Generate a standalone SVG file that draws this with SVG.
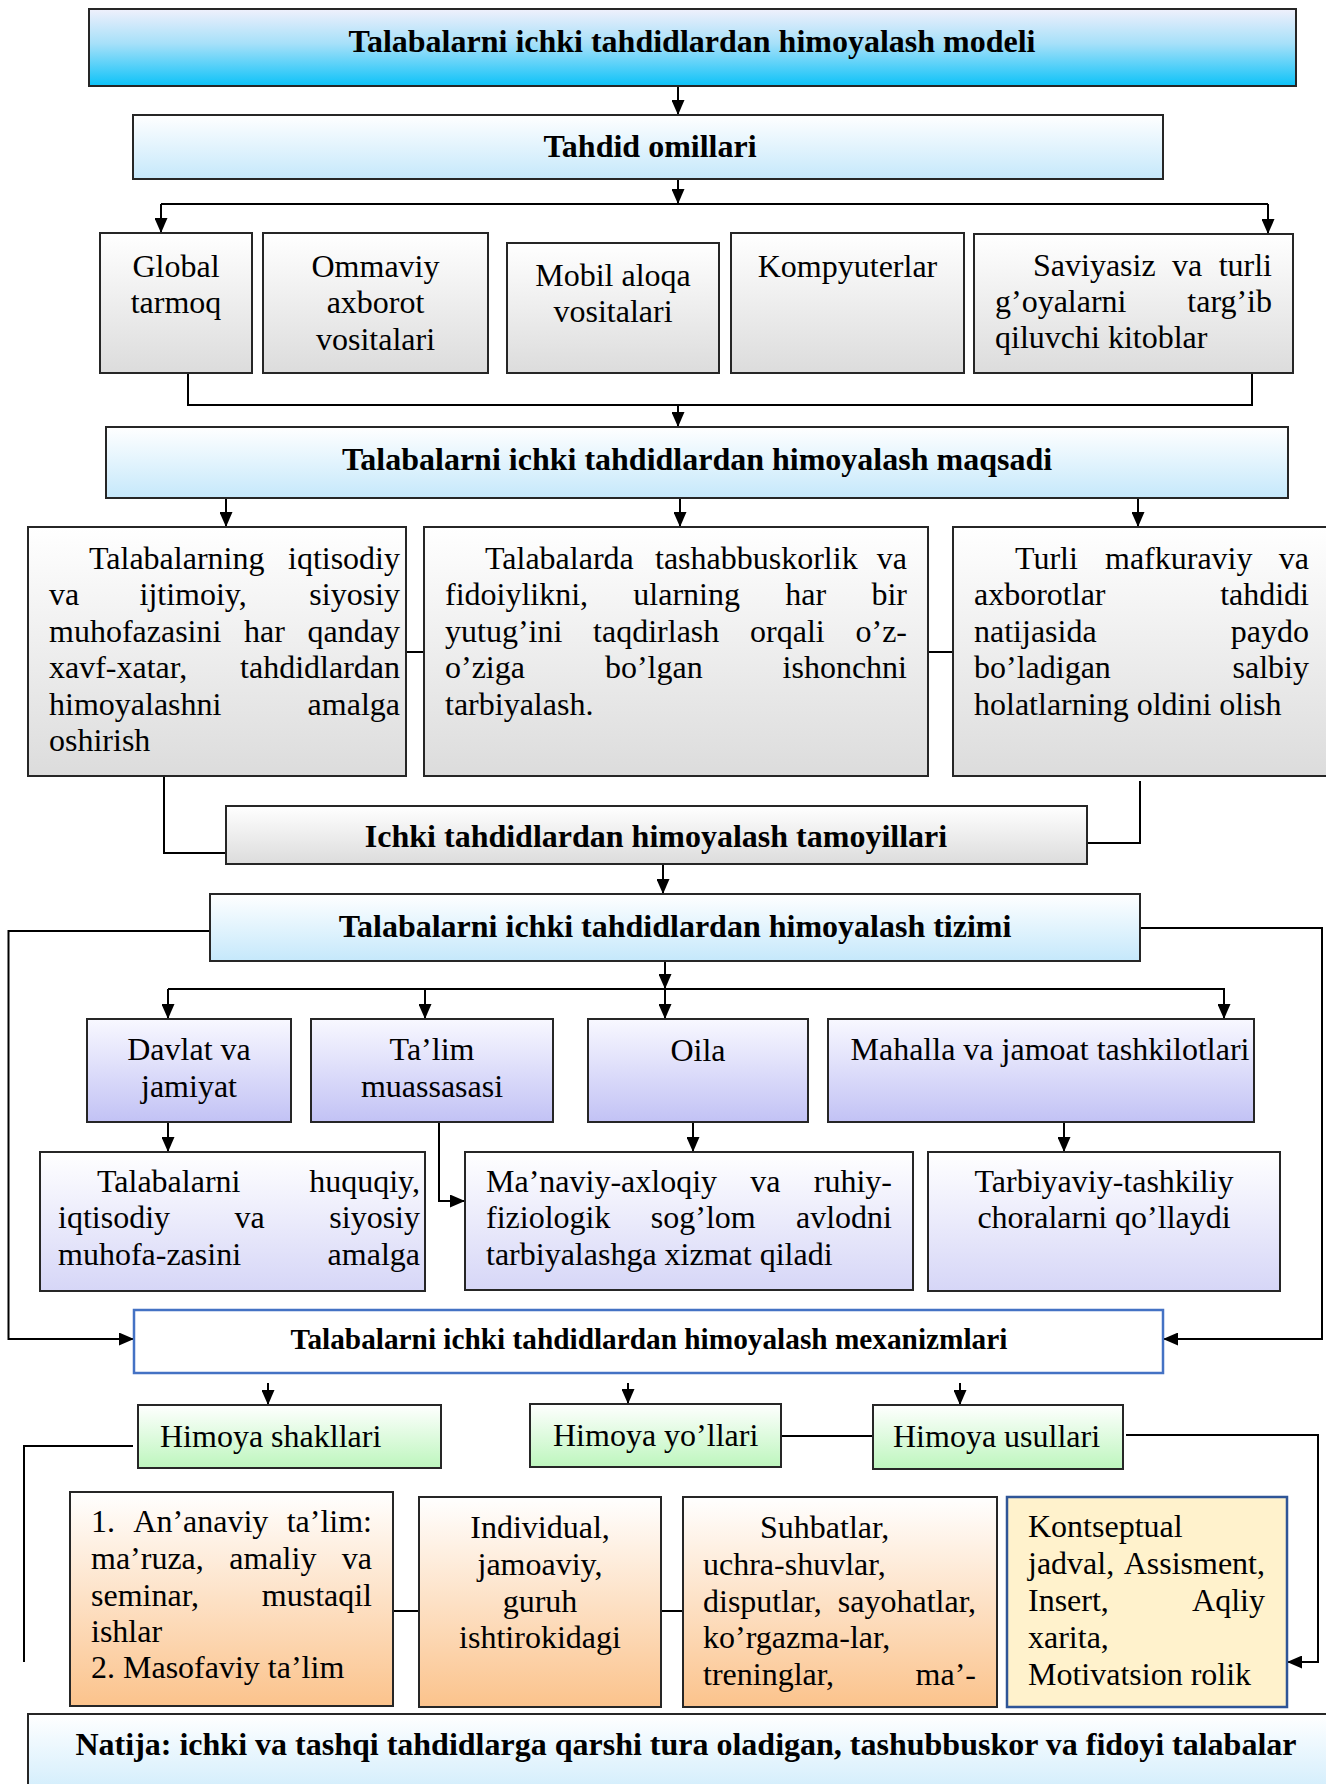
<svg xmlns="http://www.w3.org/2000/svg" width="1326" height="1784" viewBox="0 0 1326 1784">
<defs>
<linearGradient id="gTitle" x1="0" y1="0" x2="0" y2="1"><stop offset="0" stop-color="#f0f0fc"/><stop offset="0.45" stop-color="#a6e0f9"/><stop offset="1" stop-color="#0cc2f8"/></linearGradient>
<linearGradient id="gBlue" x1="0" y1="0" x2="0" y2="1"><stop offset="0" stop-color="#ffffff"/><stop offset="1" stop-color="#c5e8fb"/></linearGradient>
<linearGradient id="gGray" x1="0" y1="0" x2="0" y2="1"><stop offset="0" stop-color="#ffffff"/><stop offset="1" stop-color="#dcdcdc"/></linearGradient>
<linearGradient id="gLav" x1="0" y1="0" x2="0" y2="1"><stop offset="0" stop-color="#f8f8ff"/><stop offset="1" stop-color="#c2c2f5"/></linearGradient>
<linearGradient id="gLav2" x1="0" y1="0" x2="0" y2="1"><stop offset="0" stop-color="#ffffff"/><stop offset="1" stop-color="#d6d6f7"/></linearGradient>
<linearGradient id="gGreen" x1="0" y1="0" x2="0" y2="1"><stop offset="0" stop-color="#ffffff"/><stop offset="1" stop-color="#bdf6bd"/></linearGradient>
<linearGradient id="gPeach" x1="0" y1="0" x2="0" y2="1"><stop offset="0" stop-color="#ffffff"/><stop offset="1" stop-color="#fbc38c"/></linearGradient>
<marker id="ah" markerUnits="userSpaceOnUse" markerWidth="15" markerHeight="13" refX="15" refY="6.5" orient="auto"><path d="M0,0 L15,6.5 L0,13 z" fill="#000"/></marker>
<style>
.box{stroke:#262626;stroke-width:2}
.t{font-family:"Liberation Serif","Times New Roman",serif;font-size:32px;fill:#000}
.b{font-weight:bold}
.c{text-anchor:middle}
.e{text-anchor:end}
#connectors path{stroke:#000;stroke-width:2;fill:none}
#connectors .a{marker-end:url(#ah)}
</style>
</defs>
<rect width="1326" height="1784" fill="#fff"/>

<g id="connectors">
<path class="a" d="M678,86 V115"/>
<path class="a" d="M678,179 V204"/>
<path d="M161,204 H1268"/>
<path class="a" d="M161,204 V233"/>
<path class="a" d="M1268,204 V234"/>
<path d="M188,373 V405 H1252 V373"/>
<path class="a" d="M678,405 V427"/>
<path class="a" d="M226,498 V527"/>
<path class="a" d="M680,498 V527"/>
<path class="a" d="M1138,498 V527"/>
<path d="M406,652 H424 M928,652 H953"/>
<path d="M164,776 V853 H226"/>
<path d="M1140,781 V843 H1087"/>
<path class="a" d="M663,864 V894"/>
<path class="a" d="M665,961 V989"/>
<path d="M168,989 H1225"/>
<path class="a" d="M168,989 V1019"/>
<path class="a" d="M425,989 V1019"/>
<path class="a" d="M665,989 V1019"/>
<path class="a" d="M1224,989 V1019"/>
<path class="a" d="M168,1122 V1152"/>
<path class="a" d="M693,1122 V1152"/>
<path class="a" d="M1064,1122 V1152"/>
<path class="a" d="M439,1122 V1201 H465"/>
<path class="a" d="M210,931 H8.5 V1339 H134"/>
<path class="a" d="M1140,928 H1322 V1339 H1163"/>
<path class="a" d="M268,1383 V1405"/>
<path class="a" d="M628,1383 V1404"/>
<path class="a" d="M960,1383 V1405"/>
<path d="M781,1436 H873"/>
<path d="M133,1446 H24 V1662"/>
<path class="a" d="M1126,1435 H1318 V1662 H1287"/>
<path d="M393,1611 H419 M661,1611 H683"/>
</g>

<g id="n-title">
<rect class="box" x="89" y="9" width="1207" height="77" fill="url(#gTitle)"/>
<text class="t b c" x="692" y="52">Talabalarni ichki tahdidlardan himoyalash modeli</text>
</g>

<g id="n-omillar">
<rect class="box" x="133" y="115" width="1030" height="64" fill="url(#gBlue)"/>
<text class="t b c" x="650" y="157">Tahdid omillari</text>
</g>

<g id="n-global">
<rect class="box" x="100" y="233" width="152" height="140" fill="url(#gGray)"/>
<text class="t c" x="176" y="277">Global<tspan x="176" y="313">tarmoq</tspan></text>
</g>
<g id="n-ommaviy">
<rect class="box" x="263" y="233" width="225" height="140" fill="url(#gGray)"/>
<text class="t c" x="375.5" y="277">Ommaviy<tspan x="375.5" y="313">axborot</tspan><tspan x="375.5" y="350">vositalari</tspan></text>
</g>
<g id="n-mobil">
<rect class="box" x="507" y="243" width="212" height="130" fill="url(#gGray)"/>
<text class="t c" x="613" y="286">Mobil aloqa<tspan x="613" y="322">vositalari</tspan></text>
</g>
<g id="n-kompyuter">
<rect class="box" x="731" y="233" width="233" height="140" fill="url(#gGray)"/>
<text class="t c" x="847.5" y="277">Kompyuterlar</text>
</g>
<g id="n-saviyasiz">
<rect class="box" x="974" y="234" width="319" height="139" fill="url(#gGray)"/>
<text class="t" x="1033" y="276">Saviyasiz<tspan x="1172">va</tspan><tspan class="e" x="1272" text-anchor="end">turli</tspan></text>
<text class="t" x="995" y="312">g’oyalarni<tspan x="1272" text-anchor="end">targ’ib</tspan></text>
<text class="t" x="995" y="348">qiluvchi kitoblar</text>
</g>

<g id="n-maqsad">
<rect class="box" x="106" y="427" width="1182" height="71" fill="url(#gBlue)"/>
<text class="t b c" x="697" y="470">Talabalarni ichki tahdidlardan himoyalash maqsadi</text>
</g>

<g id="n-maqsad1">
<rect class="box" x="28" y="527" width="378" height="249" fill="url(#gGray)"/>
<text class="t" x="89" y="569">Talabalarning<tspan x="400" text-anchor="end">iqtisodiy</tspan></text>
<text class="t" x="49" y="605">va<tspan x="139.5">ijtimoiy,</tspan><tspan x="400" text-anchor="end">siyosiy</tspan></text>
<text class="t" x="49" y="642">muhofazasini<tspan x="244">har</tspan><tspan x="400" text-anchor="end">qanday</tspan></text>
<text class="t" x="49" y="678">xavf-xatar,<tspan x="400" text-anchor="end">tahdidlardan</tspan></text>
<text class="t" x="49" y="715">himoyalashni<tspan x="400" text-anchor="end">amalga</tspan></text>
<text class="t" x="49" y="751">oshirish</text>
</g>
<g id="n-maqsad2">
<rect class="box" x="424" y="527" width="504" height="249" fill="url(#gGray)"/>
<text class="t" x="485" y="569">Talabalarda<tspan x="655">tashabbuskorlik</tspan><tspan x="907" text-anchor="end">va</tspan></text>
<text class="t" x="445" y="605">fidoiylikni,<tspan x="633.3">ularning</tspan><tspan x="785.2">har</tspan><tspan x="907" text-anchor="end">bir</tspan></text>
<text class="t" x="445" y="642">yutug’ini<tspan x="593.1">taqdirlash</tspan><tspan x="750.1">orqali</tspan><tspan x="907" text-anchor="end">o’z-</tspan></text>
<text class="t" x="445" y="678">o’ziga<tspan x="604.9">bo’lgan</tspan><tspan x="907" text-anchor="end">ishonchni</tspan></text>
<text class="t" x="445" y="715">tarbiyalash.</text>
</g>
<g id="n-maqsad3">
<rect class="box" x="953" y="527" width="400" height="249" fill="url(#gGray)"/>
<text class="t" x="1015" y="569">Turli<tspan x="1105">mafkuraviy</tspan><tspan x="1309" text-anchor="end">va</tspan></text>
<text class="t" x="974" y="605">axborotlar<tspan x="1309" text-anchor="end">tahdidi</tspan></text>
<text class="t" x="974" y="642">natijasida<tspan x="1309" text-anchor="end">paydo</tspan></text>
<text class="t" x="974" y="678">bo’ladigan<tspan x="1309" text-anchor="end">salbiy</tspan></text>
<text class="t" x="974" y="715">holatlarning oldini olish</text>
</g>

<g id="n-tamoyil">
<rect class="box" x="226" y="806" width="861" height="58" fill="url(#gGray)"/>
<text class="t b c" x="656" y="847">Ichki tahdidlardan himoyalash tamoyillari</text>
</g>

<g id="n-tizim">
<rect class="box" x="210" y="894" width="930" height="67" fill="url(#gBlue)"/>
<text class="t b c" x="675" y="937">Talabalarni ichki tahdidlardan himoyalash tizimi</text>
</g>

<g id="n-davlat">
<rect class="box" x="87" y="1019" width="204" height="103" fill="url(#gLav)"/>
<text class="t c" x="189" y="1060">Davlat va<tspan x="189" y="1097">jamiyat</tspan></text>
</g>
<g id="n-talim">
<rect class="box" x="311" y="1019" width="242" height="103" fill="url(#gLav)"/>
<text class="t c" x="432" y="1060">Ta’lim<tspan x="432" y="1097">muassasasi</tspan></text>
</g>
<g id="n-oila">
<rect class="box" x="588" y="1019" width="220" height="103" fill="url(#gLav)"/>
<text class="t c" x="698" y="1061">Oila</text>
</g>
<g id="n-mahalla">
<rect class="box" x="828" y="1019" width="426" height="103" fill="url(#gLav)"/>
<text class="t c" x="1050" y="1060">Mahalla va jamoat tashkilotlari</text>
</g>

<g id="n-huquqiy">
<rect class="box" x="40" y="1152" width="385" height="139" fill="url(#gLav2)"/>
<text class="t" x="97" y="1192">Talabalarni<tspan x="420" text-anchor="end">huquqiy,</tspan></text>
<text class="t" x="58" y="1228">iqtisodiy<tspan x="234.6">va</tspan><tspan x="420" text-anchor="end">siyosiy</tspan></text>
<text class="t" x="58" y="1265">muhofa-zasini<tspan x="420" text-anchor="end">amalga</tspan></text>
</g>
<g id="n-manaviy">
<rect class="box" x="465" y="1152" width="448" height="138" fill="url(#gLav2)"/>
<text class="t" x="486" y="1192">Ma’naviy-axloqiy<tspan x="750.3">va</tspan><tspan x="892" text-anchor="end">ruhiy-</tspan></text>
<text class="t" x="486" y="1228">fiziologik<tspan x="650.8">sog’lom</tspan><tspan x="892" text-anchor="end">avlodni</tspan></text>
<text class="t" x="486" y="1265">tarbiyalashga xizmat qiladi</text>
</g>
<g id="n-tarbiyaviy">
<rect class="box" x="928" y="1152" width="352" height="139" fill="url(#gLav2)"/>
<text class="t c" x="1104" y="1192">Tarbiyaviy-tashkiliy<tspan x="1104" y="1228">choralarni qo’llaydi</tspan></text>
</g>

<g id="n-mexanizm">
<rect x="134" y="1310" width="1029" height="63" fill="#fff" stroke="#4472c4" stroke-width="2.5"/>
<text class="t b c" x="649" y="1349" style="font-size:29.3px">Talabalarni ichki tahdidlardan himoyalash mexanizmlari</text>
</g>

<g id="n-shakl">
<rect class="box" x="138" y="1405" width="303" height="63" fill="url(#gGreen)"/>
<text class="t" x="160" y="1447">Himoya shakllari</text>
</g>
<g id="n-yol">
<rect class="box" x="530" y="1404" width="251" height="63" fill="url(#gGreen)"/>
<text class="t" x="553" y="1446">Himoya yo’llari</text>
</g>
<g id="n-usul">
<rect class="box" x="873" y="1405" width="250" height="64" fill="url(#gGreen)"/>
<text class="t" x="893" y="1447">Himoya usullari</text>
</g>

<g id="n-shakl-list">
<rect class="box" x="70" y="1492" width="323" height="214" fill="url(#gPeach)"/>
<text class="t" x="91" y="1532">1.<tspan x="133.3">An’anaviy</tspan><tspan x="372" text-anchor="end">ta’lim:</tspan></text>
<text class="t" x="91" y="1569">ma’ruza,<tspan x="229.3">amaliy</tspan><tspan x="372" text-anchor="end">va</tspan></text>
<text class="t" x="91" y="1606">seminar,<tspan x="372" text-anchor="end">mustaqil</tspan></text>
<text class="t" x="91" y="1642">ishlar</text>
<text class="t" x="91" y="1678">2. Masofaviy ta’lim</text>
</g>
<g id="n-yol-list">
<rect class="box" x="419" y="1497" width="242" height="210" fill="url(#gPeach)"/>
<text class="t c" x="540" y="1538">Individual,<tspan x="540" y="1575">jamoaviy,</tspan><tspan x="540" y="1612">guruh</tspan><tspan x="540" y="1648">ishtirokidagi</tspan></text>
</g>
<g id="n-yol-list2">
<rect class="box" x="683" y="1497" width="314" height="210" fill="url(#gPeach)"/>
<text class="t" x="760" y="1538">Suhbatlar,</text>
<text class="t" x="703" y="1575">uchra-shuvlar,</text>
<text class="t" x="703" y="1612">disputlar,<tspan x="976" text-anchor="end">sayohatlar,</tspan></text>
<text class="t" x="703" y="1648">ko’rgazma-lar,</text>
<text class="t" x="703" y="1685">treninglar,<tspan x="976" text-anchor="end">ma’-</tspan></text>
</g>
<g id="n-usul-list">
<rect x="1007" y="1497" width="280" height="210" fill="#fff2cc" stroke="#2f5597" stroke-width="2.5"/>
<text class="t" x="1028" y="1537">Kontseptual</text>
<text class="t" x="1028" y="1574">jadval,<tspan x="1265" text-anchor="end">Assisment,</tspan></text>
<text class="t" x="1028" y="1611">Insert,<tspan x="1265" text-anchor="end">Aqliy</tspan></text>
<text class="t" x="1028" y="1648">xarita,</text>
<text class="t" x="1028" y="1685">Motivatsion rolik</text>
</g>

<g id="n-natija">
<rect class="box" x="28" y="1714" width="1320" height="100" fill="url(#gBlue)"/>
<text class="t b c" x="686" y="1755">Natija: ichki va tashqi tahdidlarga qarshi tura oladigan, tashubbuskor va fidoyi talabalar</text>
</g>
</svg>
